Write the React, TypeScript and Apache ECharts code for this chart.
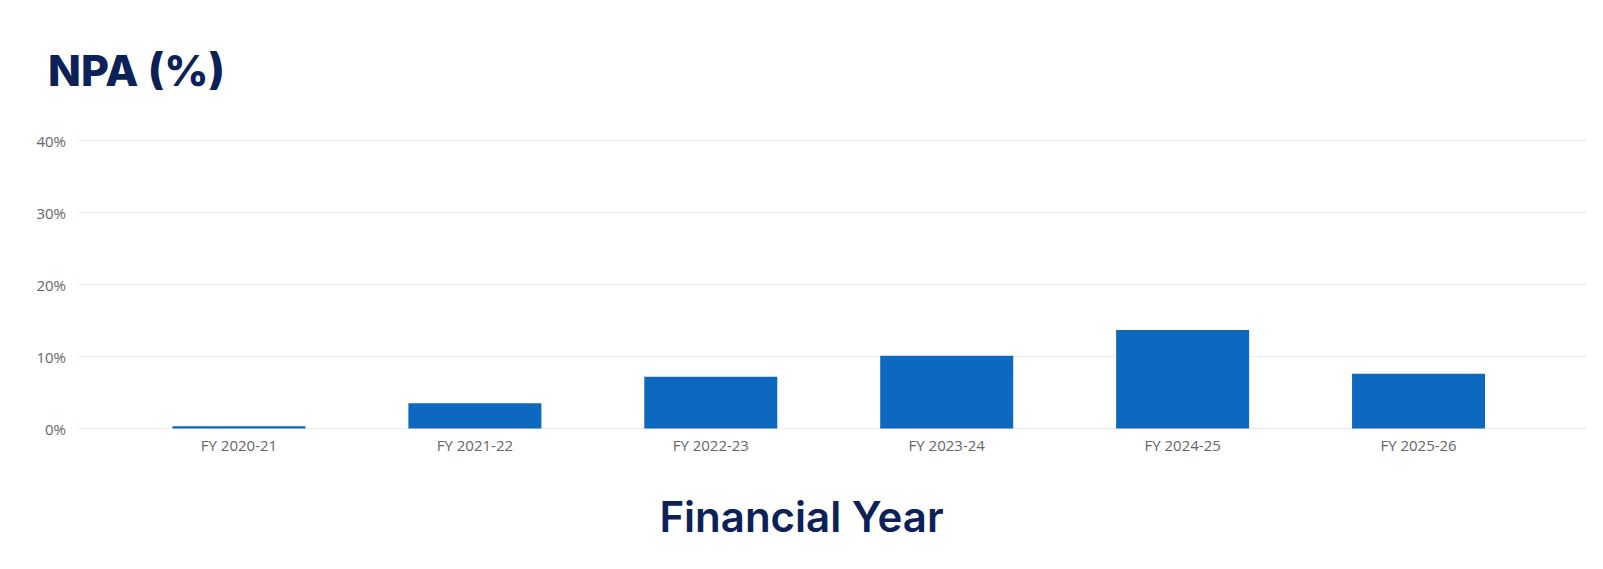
import React, { useEffect, useRef } from "react";
import * as echarts from "echarts";

const categories = ["FY 2020-21", "FY 2021-22", "FY 2022-23", "FY 2023-24", "FY 2024-25", "FY 2025-26"];
const npaValues = [0.3, 3.5, 7.2, 10.1, 13.7, 7.6];
const yMin = 0;
const yMax = 40;
const yInterval = 10;
const titleText = "NPA (%)";
const xAxisTitle = "Financial Year";

export default function App() {
  const ref = useRef<HTMLDivElement>(null);
  useEffect(() => {
    document.body.style.margin = "0";
    if (!ref.current) return;
    const chart = echarts.init(ref.current, null, { renderer: "svg" });
    const gridTop = 140.7;
    const gridHeight = 287.8;
    chart.setOption({
      animation: false,
      backgroundColor: "#ffffff",
      grid: [
        { left: 78, right: 16, top: gridTop, height: gridHeight },
        { left: 121, right: 66.5, top: gridTop, height: gridHeight },
      ],
      xAxis: [
        { type: "category", gridIndex: 0, data: categories, show: false },
        {
          type: "category",
          gridIndex: 1,
          data: categories,
          axisLine: { show: false },
          axisTick: { show: false },
          axisLabel: {
            color: "#666666",
            fontFamily: "Open Sans",
            fontSize: 15,
            margin: 9,
          },
        },
      ],
      yAxis: [
        {
          type: "value",
          gridIndex: 0,
          min: yMin,
          max: yMax,
          interval: yInterval,
          axisLine: { show: false },
          axisTick: { show: false },
          axisLabel: {
            formatter: "{value}%",
            color: "#666666",
            fontFamily: "Open Sans",
            fontSize: 15,
            margin: 12,
          },
          splitLine: { lineStyle: { color: "#ebebeb", width: 1 } },
        },
        {
          type: "value",
          gridIndex: 1,
          min: yMin,
          max: yMax,
          interval: yInterval,
          show: false,
          splitLine: { show: false },
        },
      ],
      series: [
        {
          type: "bar",
          xAxisIndex: 1,
          yAxisIndex: 1,
          data: npaValues,
          barWidth: 133,
          itemStyle: { color: "#0d69bf" },
        },
      ],
      graphic: [
        {
          type: "text",
          left: 48,
          top: 48,
          style: {
            text: titleText,
            fill: "#0b2157",
            font: "800 43px Inter",
          },
        },
        {
          type: "text",
          left: "center",
          top: 495,
          style: {
            text: xAxisTitle,
            fill: "#0b2157",
            font: "600 42px Inter",
          },
        },
      ],
    });
    return () => chart.dispose();
  }, []);
  return <div ref={ref} style={{ width: 1603, height: 569 }} />;
}
